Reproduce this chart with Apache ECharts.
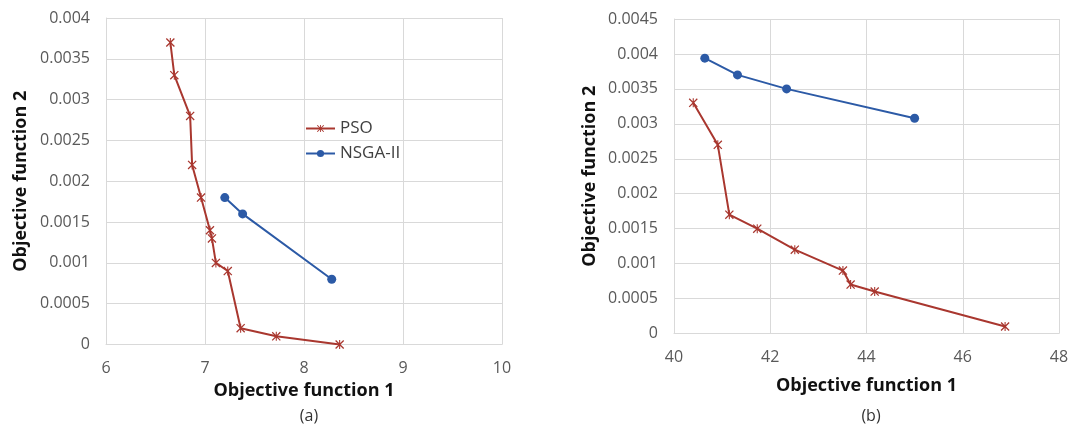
<!DOCTYPE html>
<html>
<head>
<meta charset="utf-8">
<script src="https://cdn.jsdelivr.net/npm/echarts@6/dist/echarts.min.js"></script>
<style>
html,body{margin:0;padding:0;background:#fff;}
#chart{width:1072px;height:426px;}
</style>
</head>
<body>
<div id="chart"></div>
<script>
// Panel (a)
const psoA_x = [6.65, 6.69, 6.85, 6.87, 6.96, 7.05, 7.07, 7.11, 7.23, 7.36, 7.72, 8.36];
const psoA_y = [0.0037, 0.0033, 0.0028, 0.0022, 0.0018, 0.0014, 0.0013, 0.001, 0.0009, 0.0002, 0.0001, 0];
const nsgaA_x = [7.2, 7.38, 8.28];
const nsgaA_y = [0.0018, 0.0016, 0.0008];
// Panel (b)
const psoB_x = [40.4, 40.91, 41.15, 41.73, 42.51, 43.51, 43.67, 44.17, 46.88];
const psoB_y = [0.0033, 0.0027, 0.0017, 0.0015, 0.0012, 0.0009, 0.0007, 0.0006, 0.0001];
const nsgaB_x = [40.64, 41.32, 42.34, 45.0];
const nsgaB_y = [0.00394, 0.0037, 0.0035, 0.00308];

const seriesNames = ['PSO', 'NSGA-II'];
const xTitle = 'Objective function 1';
const yTitle = 'Objective function 2';
const captions = ['(a)', '(b)'];

const zip = (xs, ys) => xs.map((x, i) => [x, ys[i]]);
const RED = '#A9372F';
const BLUE = '#2C5AA6';
const GRID = '#D9D9D9';
const FONT = 'Open Sans';
const starPath = 'path://M0,1L1,0L10,9L9,10Z M9,0L10,1L1,10L0,9Z M4.4,0L5.6,0L5.6,10L4.4,10Z';

function xAxis(gi, min, max, interval, gap) {
  return {
    type: 'value', gridIndex: gi, min, max, interval,
    name: xTitle, nameLocation: 'middle', nameGap: gap,
    nameTextStyle: { fontFamily: FONT, fontWeight: 'bold', fontSize: 18, color: '#111' },
    axisLine: { show: true, lineStyle: { color: GRID, width: 1 } },
    axisTick: { show: false },
    axisLabel: { fontFamily: FONT, fontSize: 16, color: '#595959', margin: 16 },
    splitLine: { show: true, lineStyle: { color: GRID, width: 1 } }
  };
}
function yAxis(gi, min, max, interval, gap) {
  return {
    type: 'value', gridIndex: gi, min, max, interval,
    name: yTitle, nameLocation: 'middle', nameGap: gap,
    nameTextStyle: { fontFamily: FONT, fontWeight: 'bold', fontSize: 18, color: '#111' },
    axisLine: { show: true, lineStyle: { color: GRID, width: 1 } },
    axisTick: { show: false },
    axisLabel: { fontFamily: FONT, fontSize: 16, color: '#595959', margin: 16,
      formatter: v => String(+v.toFixed(5)) },
    splitLine: { show: true, lineStyle: { color: GRID, width: 1 } }
  };
}
function pso(gi, data) {
  return { name: seriesNames[0], type: 'line', xAxisIndex: gi, yAxisIndex: gi, data,
    symbol: starPath, symbolSize: 9, showAllSymbol: true,
    lineStyle: { color: RED, width: 2 }, itemStyle: { color: RED } };
}
function nsga(gi, data) {
  return { name: seriesNames[1], type: 'line', xAxisIndex: gi, yAxisIndex: gi, data,
    symbol: 'circle', symbolSize: 9,
    lineStyle: { color: BLUE, width: 2 }, itemStyle: { color: BLUE } };
}

const chart = echarts.init(document.getElementById('chart'), null, { renderer: 'canvas' });
chart.setOption({
  animation: false,
  backgroundColor: '#fff',
  grid: [
    { left: 106, right: 570, top: 18, bottom: 81.5 },
    { left: 674, right: 13, top: 19, bottom: 92.5 }
  ],
  xAxis: [xAxis(0, 6, 10, 1, 32), xAxis(1, 40, 48, 2, 43)],
  yAxis: [yAxis(0, 0, 0.004, 0.0005, 76), yAxis(1, 0, 0.0045, 0.0005, 75)],
  legend: {
    data: seriesNames, orient: 'vertical', left: 300, top: 115, itemGap: 8,
    itemWidth: 29, itemHeight: 9,
    textStyle: { fontFamily: FONT, fontSize: 17, color: '#404040' }
  },
  title: [
    { text: captions[0], left: 304, top: 403, textAlign: 'center',
      textStyle: { fontFamily: FONT, fontWeight: 'normal', fontSize: 16, color: '#333' } },
    { text: captions[1], left: 866, top: 403, textAlign: 'center',
      textStyle: { fontFamily: FONT, fontWeight: 'normal', fontSize: 16, color: '#333' } }
  ],
  series: [
    pso(0, zip(psoA_x, psoA_y)), nsga(0, zip(nsgaA_x, nsgaA_y)),
    pso(1, zip(psoB_x, psoB_y)), nsga(1, zip(nsgaB_x, nsgaB_y))
  ]
});
</script>
</body>
</html>
